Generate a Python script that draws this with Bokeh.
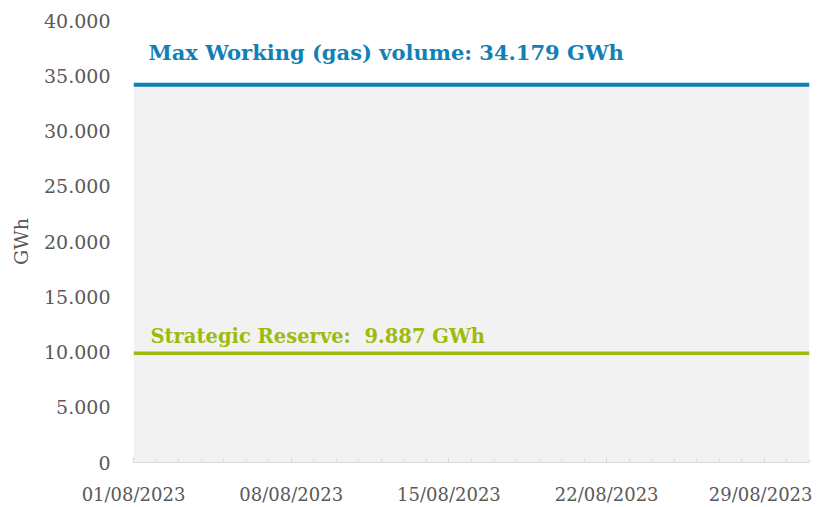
import pandas as pd
from bokeh.plotting import figure
from bokeh.models import (ColumnDataSource, Range1d, FixedTicker, DatetimeTickFormatter,
                          CustomJSTickFormatter, Label)
from bokeh.embed import file_html
from bokeh.resources import INLINE

# ---- data ----
dates = pd.date_range("2023-08-01", "2023-08-31", freq="D")
major_dates = ["2023-08-01", "2023-08-08", "2023-08-15", "2023-08-22", "2023-08-29"]
max_working_volume = 34179
strategic_reserve = 9887
y_ticks = [0, 5000, 10000, 15000, 20000, 25000, 30000, 35000, 40000]
max_label = "Max Working (gas) volume: 34.179 GWh"
reserve_label = "Strategic Reserve: \u00a09.887 GWh"

BLUE = "#1180b5"
GREEN = "#9dbb0c"
GREY_TXT = "#595959"
FONT = "DejaVu Serif"

src = ColumnDataSource(dict(
    x=dates,
    zero=[0] * len(dates),
    maxv=[max_working_volume] * len(dates),
    res=[strategic_reserve] * len(dates),
))

p = figure(width=812, height=507, x_axis_type="datetime", output_backend="svg",
           toolbar_location=None, min_border_left=133, min_border_right=3,
           min_border_top=20, min_border_bottom=43)
p.x_range = Range1d(dates[0], dates[-1])
p.y_range = Range1d(0, 40000)
p.outline_line_color = None
p.xgrid.visible = False
p.ygrid.visible = False
p.background_fill_color = "white"
p.border_fill_color = "white"

p.varea(x="x", y1="zero", y2="maxv", source=src, fill_color="#f2f2f2")
p.line(x="x", y="maxv", source=src, line_color=BLUE, line_width=4)
p.line(x="x", y="res", source=src, line_color=GREEN, line_width=3.5)

# x axis
to_ms = lambda d: pd.Timestamp(d).value / 1e6
p.xaxis.ticker = FixedTicker(ticks=[to_ms(d) for d in major_dates],
                             minor_ticks=[to_ms(d) for d in dates])
p.xaxis.formatter = DatetimeTickFormatter(days="%d/%m/%Y", months="%d/%m/%Y")
p.xaxis.axis_line_color = "#d9d9d9"
p.xaxis.major_tick_line_color = "#d9d9d9"
p.xaxis.minor_tick_line_color = "#d9d9d9"
p.xaxis.major_tick_in = 5
p.xaxis.major_tick_out = 0
p.xaxis.minor_tick_in = 3
p.xaxis.minor_tick_out = 0
p.xaxis.major_label_standoff = 21
p.xaxis.major_label_text_font = FONT
p.xaxis.major_label_text_font_size = "18px"
p.xaxis.major_label_text_color = GREY_TXT

# y axis
p.yaxis.ticker = FixedTicker(ticks=y_ticks)
p.yaxis.formatter = CustomJSTickFormatter(
    code="return tick.toFixed(0).replace(/\\B(?=(\\d{3})+(?!\\d))/g, '.');")
p.yaxis.axis_line_color = None
p.yaxis.major_tick_line_color = None
p.yaxis.minor_tick_line_color = None
p.yaxis.major_label_standoff = 17
p.yaxis.major_label_text_font = FONT
p.yaxis.major_label_text_font_size = "19px"
p.yaxis.major_label_text_color = GREY_TXT
p.yaxis.axis_label = "GWh"
p.yaxis.axis_label_text_font = FONT
p.yaxis.axis_label_text_font_size = "19px"
p.yaxis.axis_label_text_font_style = "normal"
p.yaxis.axis_label_text_color = GREY_TXT
p.yaxis.axis_label_standoff = 9

p.add_layout(Label(x=dates[0], y=max_working_volume, x_offset=15, y_offset=32,
                   text=max_label, text_font=FONT, text_font_size="21px",
                   text_font_style="bold", text_color=BLUE,
                   text_baseline="alphabetic"))
p.add_layout(Label(x=dates[0], y=strategic_reserve, x_offset=17, y_offset=17,
                   text=reserve_label, text_font=FONT, text_font_size="19.5px",
                   text_font_style="bold", text_color=GREEN,
                   text_baseline="alphabetic"))

open("out.html", "w").write(file_html(p, INLINE))
